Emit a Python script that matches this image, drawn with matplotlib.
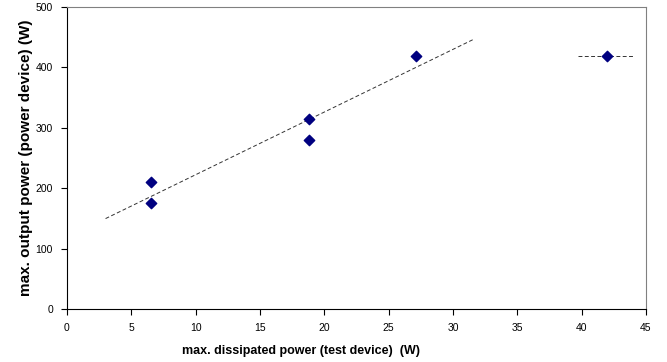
import matplotlib.pyplot as plt
import numpy as np

plt.rcParams['font.family'] = ['Liberation Sans', 'DejaVu Sans']

# measured points
x_test = [6.5, 6.5, 18.8, 18.8, 27.1]
y_test = [210, 175, 315, 280, 419]
x_extra = [42.0]
y_extra = [419]

# trend line range (as drawn in the original)
trend_x = [3.0, 31.7]
extra_trend_x = [39.7, 44.0]

fig = plt.figure(figsize=(6.67, 3.62), dpi=100)
ax = fig.add_axes([0.1004, 0.1464, 0.8681, 0.8343])

slope, intercept = np.polyfit(x_test, y_test, 1)
tx = np.array(trend_x)
ax.plot(tx, slope * tx + intercept, color='#333333', lw=0.7, ls=(0, (4, 2.5)), zorder=2)
ax.plot(extra_trend_x, [y_extra[0]] * 2, color='#333333', lw=0.7, ls=(0, (4, 2.5)), zorder=2)

ax.scatter(x_test + x_extra, y_test + y_extra, marker='D', s=28, color='#000080',
           edgecolor='#000080', zorder=3)

ax.set_xlim(0, 45)
ax.set_ylim(0, 500)
ax.set_xticks(range(0, 46, 5))
ax.set_yticks(range(0, 501, 100))
ax.tick_params(direction='out', length=4, width=0.8, labelsize=7.5, pad=6)

for side in ['top', 'right']:
    ax.spines[side].set_color('#808080')
for side in ['left', 'bottom']:
    ax.spines[side].set_color('black')

ax.set_xlabel('max. dissipated power (test device)  (W)', fontsize=9, fontweight='bold')
ax.xaxis.set_label_coords(0.404, -0.12)
ax.set_ylabel('max. output power (power device) (W)', fontsize=11, fontweight='bold')
ax.yaxis.set_label_coords(-0.058, 0.5)

fig.savefig('out.png', dpi=100)
